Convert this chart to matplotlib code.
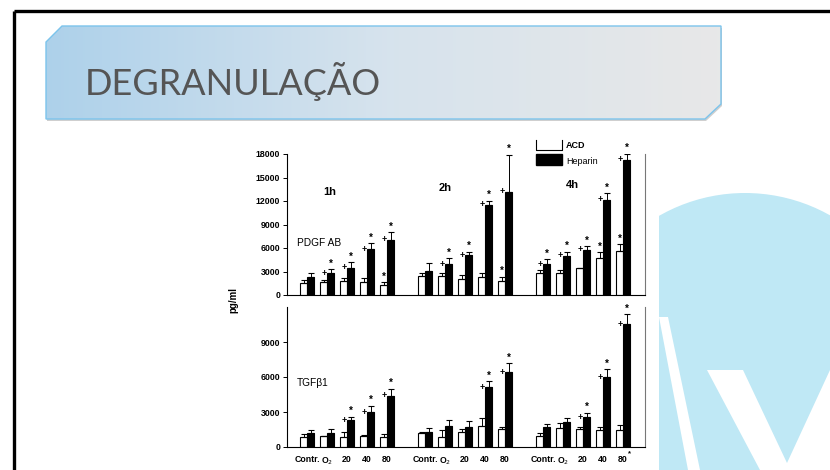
import numpy as np
import matplotlib
matplotlib.use("Agg")
import matplotlib.pyplot as plt
from matplotlib.patches import Polygon, Circle, Rectangle

# ---------------- data ----------------
groups = ["1h", "2h", "4h"]
conditions = ["Contr.", "O$_2$", "20", "40", "80"]

pdgf_acd = [[1500, 1600, 1800, 1700, 1300],
            [2400, 2400, 2000, 2350, 1850],
            [2850, 2750, 3500, 4700, 5600]]
pdgf_acd_err = [[430, 340, 430, 430, 300],
                [420, 400, 550, 400, 500],
                [340, 500, 0, 770, 850]]
pdgf_hep = [[2250, 2800, 3500, 5850, 7050],
            [3050, 3950, 5100, 11500, 13200],
            [3950, 5000, 5750, 12150, 17250]]
pdgf_hep_err = [[600, 500, 700, 770, 950],
                [1060, 720, 430, 500, 4700],
                [640, 500, 500, 850, 770]]

tgf_acd = [[860, 940, 890, 940, 860],
           [1230, 890, 1310, 1800, 1510],
           [940, 1630, 1510, 1460, 1460]]
tgf_acd_err = [[230, 0, 370, 100, 260],
               [80, 570, 230, 710, 170],
               [230, 400, 170, 230, 430]]
tgf_hep = [[1170, 1170, 2310, 2970, 4400],
           [1310, 1830, 1690, 5110, 6400],
           [1690, 2110, 2540, 5970, 10540]]
tgf_hep_err = [[290, 370, 290, 570, 570],
               [340, 490, 540, 540, 770],
               [290, 340, 400, 690, 830]]

# significance marks: '+' left of heparin bar, '*' above heparin error bar
pdgf_hep_marks = [["", "+*", "+*", "+*", "+*"],
                  ["", "+*", "+*", "+*", "+*"],
                  ["+*", "+*", "+*", "+*", "+*"]]
pdgf_acd_marks = [["", "", "", "", "*"],
                  ["", "", "", "", "*"],
                  ["", "", "", "*", "*"]]
tgf_hep_marks = [["", "", "+*", "+*", "+*"],
                 ["", "", "", "+*", "+*"],
                 ["", "", "+*", "+*", "+*"]]

font = ["Liberation Sans", "DejaVu Sans"]

fig = plt.figure(figsize=(8.3, 4.7), dpi=100)
W, H = 830, 470

# background / slide decoration axes in pixel coordinates
bg = fig.add_axes([0, 0, 1, 1], zorder=0)
bg.set_xlim(0, W)
bg.set_ylim(H, 0)
bg.axis("off")

# slide frame
bg.plot([14, W], [11, 11], color="black", lw=2.4, solid_capstyle="butt")
bg.plot([14, 14], [11, H], color="black", lw=2.4, solid_capstyle="butt")

# title banner with gradient
banner = [(46, 42), (62, 26), (721, 26), (721, 104), (705, 119), (46, 119)]
shadow = [(p[0] + 1, p[1] + 2) for p in banner]
bg.add_patch(Polygon(shadow, closed=True, facecolor="#cfcfcf", edgecolor="none", zorder=0.5))
grad = np.linspace(0, 1, 256)
c0 = np.array([0.68, 0.82, 0.92])
c1 = np.array([0.84, 0.89, 0.93])
c2 = np.array([0.91, 0.91, 0.91])
cols = np.where(grad[:, None] < 0.5,
                c0 + (c1 - c0) * (grad[:, None] / 0.5),
                c1 + (c2 - c1) * ((grad[:, None] - 0.5) / 0.5))
img = np.tile(cols[None, :, :], (2, 1, 1))
im = bg.imshow(img, extent=(46, 721, 119, 26), aspect="auto", zorder=1)
bpoly = Polygon(banner, closed=True, facecolor="none", edgecolor="#7cc4ec", lw=1.0, zorder=2)
bg.add_patch(bpoly)
im.set_clip_path(bpoly)
bg.text(85, 95, "DEGRANULAÇÃO", fontsize=26, color="#555555",
        family=["Lato", "DejaVu Sans"], weight="normal", va="baseline", ha="left", zorder=3)

# decorative circle on the right
clip = Rectangle((659, 0), W - 659, H, transform=bg.transData)
circ = Circle((745, 366), 173, facecolor="#bfe8f5", edgecolor="none", zorder=1)
bg.add_patch(circ)
circ.set_clip_path(clip)
for pts in [[(659, 317), (668, 317), (700, 470), (688, 470)],
            [(707, 370), (743, 370), (787, 463), (830, 370), (830, 470), (760, 470)]]:
    bg.add_patch(Polygon(pts, closed=True, facecolor="white", edgecolor="none", zorder=2))

# ---------------- chart ----------------
def px_rect(x0, y0, x1, y1):
    return [x0 / W, 1 - y1 / H, (x1 - x0) / W, (y1 - y0) / H]

ax1 = fig.add_axes(px_rect(287, 154, 645, 295), zorder=2)
ax2 = fig.add_axes(px_rect(287, 307, 645, 447), zorder=2)

step = 5.9
bw = 0.35

def draw_panel(ax, acd, acd_err, hep, hep_err, ymax, hep_marks, acd_marks):
    ax.set_facecolor("none")
    for g in range(3):
        xc = g * step + np.arange(5)
        xw = xc - bw / 2
        xb = xc + bw / 2
        ax.bar(xw, acd[g], bw, color="white", edgecolor="black", lw=0.8, zorder=2)
        ax.bar(xb, hep[g], bw, color="black", edgecolor="black", lw=0.8, zorder=2)
        ax.errorbar(xw, acd[g], yerr=[np.zeros(5), acd_err[g]], fmt="none",
                    ecolor="black", elinewidth=0.7, capsize=2.5, capthick=0.8, zorder=3)
        ax.errorbar(xb, hep[g], yerr=[np.zeros(5), hep_err[g]], fmt="none",
                    ecolor="black", elinewidth=0.7, capsize=2.5, capthick=0.8, zorder=3)
        for i in range(5):
            m = hep_marks[g][i]
            if "+" in m:
                ax.text(xb[i] - bw / 2 - 0.03, hep[g][i], "+", ha="right", va="center",
                        fontsize=6.5, weight="bold", family=font)
            if "*" in m:
                ax.annotate("*", (xb[i], hep[g][i] + hep_err[g][i]), xytext=(0, 0.5),
                            textcoords="offset points", ha="center", va="bottom",
                            fontsize=7, weight="bold", family=font)
            if acd_marks is not None and "*" in acd_marks[g][i]:
                ax.annotate("*", (xw[i], acd[g][i] + acd_err[g][i]), xytext=(0, 0.5),
                            textcoords="offset points", ha="center", va="bottom",
                            fontsize=7, weight="bold", family=font)
    ax.set_xlim(-1.0, 16.9)
    ax.set_ylim(0, ymax)
    ax.tick_params(axis="y", direction="out", length=3, width=0.7, labelsize=6.3, pad=2)
    ax.spines["top"].set_visible(False)
    ax.spines["right"].set_color("#777777")
    ax.spines["right"].set_linewidth(0.8)
    ax.spines["left"].set_linewidth(0.8)
    ax.spines["bottom"].set_linewidth(0.8)

draw_panel(ax1, pdgf_acd, pdgf_acd_err, pdgf_hep, pdgf_hep_err, 18000,
           pdgf_hep_marks, pdgf_acd_marks)
draw_panel(ax2, tgf_acd, tgf_acd_err, tgf_hep, tgf_hep_err, 12000,
           tgf_hep_marks, None)
ax1.set_yticks(np.arange(0, 18001, 3000))
ax2.set_yticks(np.arange(0, 9001, 3000))
for ax in (ax1, ax2):
    for lab in ax.get_yticklabels():
        lab.set_family(font)
        lab.set_weight("bold")

ax1.set_xticks([])
xt = np.concatenate([g * step + np.arange(5) for g in range(3)])
ax2.set_xticks(xt)
ax2.set_xticklabels(conditions * 3)
ax2.tick_params(axis="x", length=0, labelsize=6.3, pad=6)
for lab in ax2.get_xticklabels():
    lab.set_family(font)
    lab.set_weight("bold")
ax2.annotate("*", (xt[-1], 0), xytext=(5, -5), textcoords="offset points",
             ha="center", va="center", fontsize=5.5, weight="bold", family=font)

# panel texts
label_x = [1.15, 6.9, 13.25]
label_y = [13150, 13660, 14040]
for g, lbl in enumerate(groups):
    ax1.text(label_x[g], label_y[g], lbl, fontsize=8, weight="bold", family=font,
             ha="center", va="center")
ax1.text(-0.5, 6600, "PDGF AB", fontsize=7.3, family=font, ha="left", va="center")
ax2.text(-0.5, 5500, "TGFβ1", fontsize=7.3, family=font, ha="left", va="center")
fig.text(233 / W, 1 - 300 / H, "pg/ml", rotation=90, fontsize=7, weight="bold",
         family=font, ha="center", va="center")

# legend (drawn manually like the figure)
bg.plot([536, 536, 562, 562], [140, 150, 150, 140], color="black", lw=0.8, zorder=4)
bg.add_patch(Rectangle((536, 154), 26, 11, facecolor="black", edgecolor="black", zorder=4))
bg.text(566, 146, "ACD", fontsize=6.5, weight="bold", family=font, va="center", zorder=4)
bg.text(566, 161, "Heparin", fontsize=6.5, family=font, va="center", zorder=4)

fig.savefig("out.png", dpi=100)
